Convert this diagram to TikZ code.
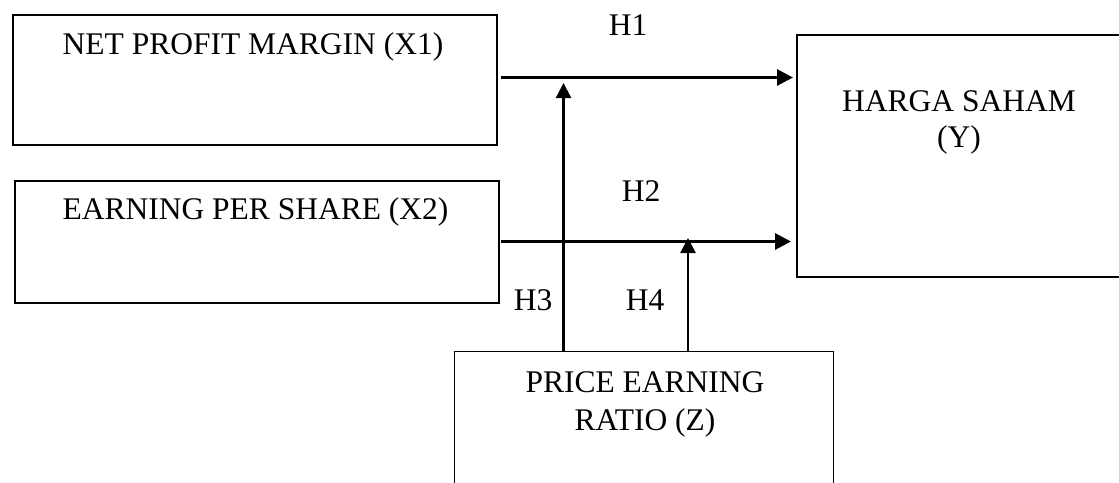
\documentclass[tikz,border=0pt]{standalone}
\usepackage{fontspec}
\setmainfont{Liberation Serif}
\usetikzlibrary{arrows.meta,calc}
\begin{document}
\begin{tikzpicture}[x=1pt,y=-1pt,
  box/.style={draw=black, line width=1.7pt, rectangle, inner sep=0pt, anchor=north west},
  lbl/.style={anchor=base, inner sep=0pt, font=\fontsize{31.5}{36.5}\selectfont},
  harrow/.style={line width=3pt, -{Triangle[length=16pt,width=16pt]}},
  varrow/.style={line width=2.3pt, -{Triangle[length=15pt,width=15pt]}}]
\useasboundingbox (0,0) rectangle (1119,482);
\clip (0,0) rectangle (1119,482);
% boxes
\node[box, minimum width=484pt, minimum height=130pt] (x1) at (12,14) {};
\node[box, minimum width=484pt, minimum height=122pt] (x2) at (14,180) {};
\node[box, minimum width=420pt, minimum height=242pt] (y) at (796,34) {};
\node[box, line width=1.2pt, minimum width=379pt, minimum height=200pt] (z) at (454,351) {};
% texts
\node[lbl] (t1) at (253,54) {NET PROFIT MARGIN (X1)};
\node[lbl] (t2) at (255.5,219) {EARNING PER SHARE (X2)};
\node[lbl] (t3) at (959,111) {HARGA SAHAM};
\node[lbl] (t4) at (959,147) {(Y)};
\node[lbl] (t5) at (645,392) {PRICE EARNING};
\node[lbl] (t6) at (645,430) {RATIO (Z)};
\node[lbl] (h1) at (628,35) {H1};
\node[lbl] (h2) at (641,201) {H2};
\node[lbl] (h3) at (533,310) {H3};
\node[lbl] (h4) at (645,310) {H4};
% connectors
\coordinate (a1) at (0,77.5);
\coordinate (a2) at (0,241.5);
\coordinate (v1) at (563.5,83);
\coordinate (v2) at (688,238);
\draw[harrow] ($(x1.east |- a1)+(3,0)$) -- ($(y.west |- a1)+(-3,0)$);
\draw[harrow] ($(x2.east |- a2)+(1,0)$) -- ($(y.west |- a2)+(-5,0)$);
\draw[varrow] (z.north -| v1) -- (v1);
\draw[varrow] (z.north -| v2) -- (v2);
\end{tikzpicture}
\end{document}
